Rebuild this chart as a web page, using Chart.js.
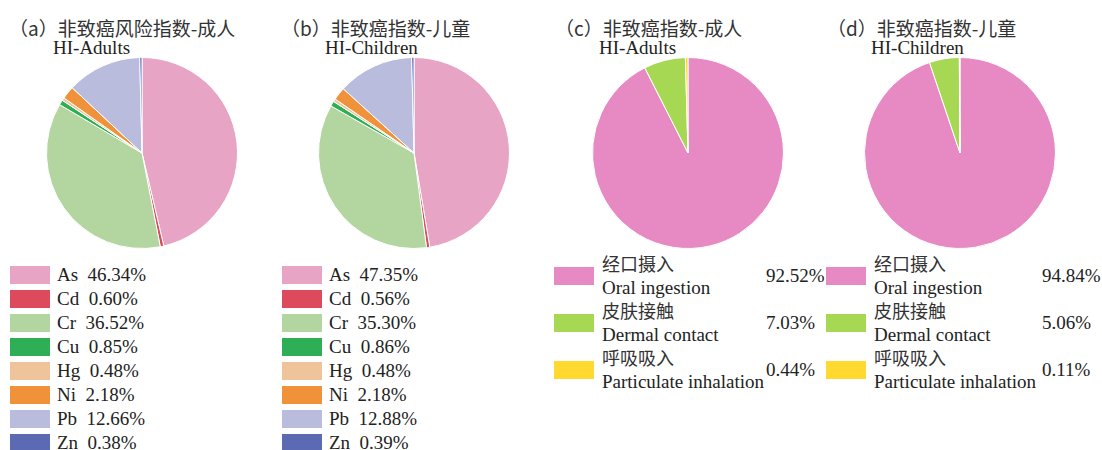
<!DOCTYPE html>
<html>
<head>
<meta charset="utf-8">
<script src="https://cdn.jsdelivr.net/npm/chart.js@4.4.0/dist/chart.umd.min.js"></script>
<style>
  html, body { margin: 0; padding: 0; background: #fff; }
  #stage { position: relative; width: 1102px; height: 450px; overflow: hidden; color: #222; }
  .pie { position: absolute; width: 192px; height: 192px; }
  .title { position: absolute; font: 19px/20px "Noto Sans CJK SC", sans-serif; white-space: nowrap; color: #333; }
  .sub { position: absolute; font: 19px/20px "Liberation Serif", serif; white-space: nowrap; }
  .box { position: absolute; width: 40px; height: 18px; }
  .txt { position: absolute; font: 19px/18px "Liberation Serif", serif; white-space: pre; }
  .zh { position: absolute; font: 18px/20px "Noto Sans CJK SC", sans-serif; white-space: nowrap; color: #333; }
  .en { position: absolute; font: 19px/20px "Liberation Serif", serif; white-space: nowrap; }
</style>
</head>
<body>
<div id="stage"></div>
<script>
// ─── Data ────────────────────────────────────────
const metals = ['As', 'Cd', 'Cr', 'Cu', 'Hg', 'Ni', 'Pb', 'Zn'];
const hiAdults = [46.34, 0.60, 36.52, 0.85, 0.48, 2.18, 12.66, 0.38];
const hiChildren = [47.35, 0.56, 35.30, 0.86, 0.48, 2.18, 12.88, 0.39];
const metalColors = ['#E8A4C4', '#DC4A5C', '#B3D5A0', '#2EAE55', '#EFC49A', '#F0923A', '#B9BCDC', '#5B6AB3'];

const pathwaysZh = ['经口摄入', '皮肤接触', '呼吸吸入'];
const pathwaysEn = ['Oral ingestion', 'Dermal contact', 'Particulate inhalation'];
const pathAdults = [92.52, 7.03, 0.44];
const pathChildren = [94.84, 5.06, 0.11];
const pathColors = ['#E78AC3', '#A6D854', '#FFD92F'];

const panels = [
  { cx: 142, title: '（a）非致癌风险指数-成人', sub: 'HI-Adults', kind: 'metal', values: hiAdults },
  { cx: 414, title: '（b）非致癌指数-儿童', sub: 'HI-Children', kind: 'metal', values: hiChildren },
  { cx: 688, title: '（c）非致癌指数-成人', sub: 'HI-Adults', kind: 'path', values: pathAdults, pctX: 766 },
  { cx: 960, title: '（d）非致癌指数-儿童', sub: 'HI-Children', kind: 'path', values: pathChildren, pctX: 1042 },
];

const stage = document.getElementById('stage');

function el(cls, left, top, text) {
  const d = document.createElement('div');
  d.className = cls;
  d.style.left = left + 'px';
  d.style.top = top + 'px';
  if (text !== undefined) d.textContent = text;
  stage.appendChild(d);
  return d;
}

// ─── Build panels ────────────────────────────────
panels.forEach((p) => {
  el('title', p.cx - 133, 18, p.title);
  el('sub', p.cx - 89, 38, p.sub);

  const wrap = el('pie', p.cx - 96, 57);
  const canvas = document.createElement('canvas');
  wrap.appendChild(canvas);

  const isMetal = p.kind === 'metal';
  const labels = isMetal ? metals : pathwaysEn;
  const colors = isMetal ? metalColors : pathColors;

  new Chart(canvas, {
    type: 'pie',
    data: {
      labels: labels,
      datasets: [{
        data: p.values,
        backgroundColor: colors,
        borderColor: '#fff',
        borderWidth: 1,
      }],
    },
    options: {
      animation: false,
      responsive: true,
      maintainAspectRatio: false,
      layout: { padding: 0 },
      plugins: { legend: { display: false }, tooltip: { enabled: false } },
    },
  });

  // Legend
  if (isMetal) {
    metals.forEach((m, i) => {
      const top = 266 + i * 24;
      el('box', p.cx - 132, top).style.background = metalColors[i];
      el('txt', p.cx - 85, top, `${m}  ${p.values[i].toFixed(2)}%`);
    });
  } else {
    pathwaysEn.forEach((name, i) => {
      const top = 267 + i * 47;
      el('box', p.cx - 134, top).style.background = pathColors[i];
      el('zh', p.cx - 86, top - 14, pathwaysZh[i]);
      el('en', p.cx - 86, top + 11, name);
      el('en', p.pctX, top - 1, `${p.values[i].toFixed(2)}%`);
    });
  }
});
</script>
</body>
</html>
